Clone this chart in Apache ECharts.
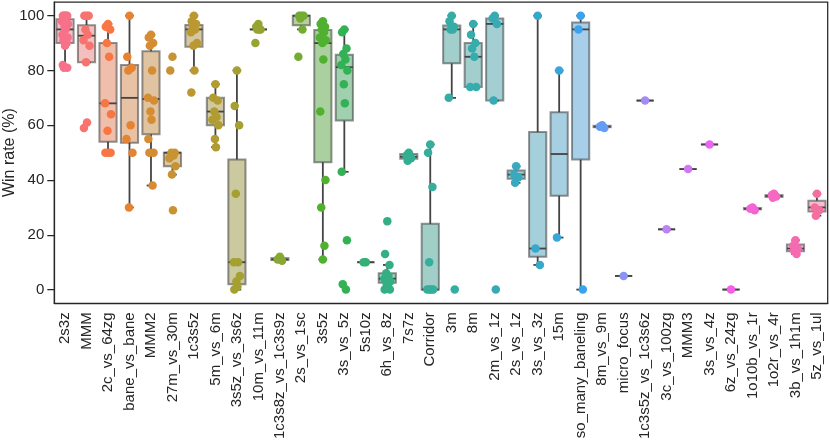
<!DOCTYPE html>
<html><head><meta charset="utf-8">
<script src="https://cdn.jsdelivr.net/npm/echarts@6/dist/echarts.min.js"></script>
<style>html,body{margin:0;padding:0;background:#fff}#c{width:830px;height:442px}</style>
</head><body><div id="c"></div><script>
const categories = ["2s3z","MMM","2c_vs_64zg","bane_vs_bane","MMM2","27m_vs_30m","1c3s5z","5m_vs_6m","3s5z_vs_3s6z","10m_vs_11m","1c3s8z_vs_1c3s9z","2s_vs_1sc","3s5z","3s_vs_5z","5s10z","6h_vs_8z","7s7z","Corridor","3m","8m","2m_vs_1z","2s_vs_1z","3s_vs_3z","15m","so_many_baneling","8m_vs_9m","micro_focus","1c3s5z_vs_1c3s6z","3c_vs_100zg","MMM3","3s_vs_4z","6z_vs_24zg","1o10b_vs_1r","1o2r_vs_4r","3b_vs_1h1m","5z_vs_1ul"];

// individual run win rates (%) per category
const winRates = [
  [100,100,100,100,100,98,97,96,95,93,92,91,90,89,82,81,81],
  [100,100,100,95,93,91,89,83,61,59],
  [97,96,95,90,85,68,64,58,50,50,50],
  [100,85,81,80,60,55,50,30],
  [93,92,90,89,80,70,69,65,62,55,50,50,38],
  [85,80,50,50,49,48,45,42,29],
  [100,98,97,96,95,94,90,89,80,72],
  [75,70,69,65,63,62,60,55,52],
  [80,67,60,35,10,10,5,3,1,0],
  [97,96,95,95,95,90],
  [12,11,10.5],
  [100,100,100,99,95,85],
  [98,97,96,95,94,92,91,90,84,65,40,30,16,11],
  [95,94,88,86,84,82,80,75,68,43,18,2,0],
  [10,10],
  [25,13,9,6,5,4,3,2,1,0,0],
  [50,49,48,47],
  [53,50,37.5,10,0,0,0,0],
  [100,98,96,95,95,70,0],
  [97,93,90,88,85,74,74],
  [100,99,97,69,0],
  [45,42,41,39],
  [100,15,9],
  [80,19],
  [100,95,0],
  [60,59.5,59],
  [5],
  [69],
  [22],
  [44],
  [53],
  [0],
  [30,29.5,29],
  [35,34.5,34,33.5],
  [18,16,15,14,13],
  [35,30,29,27]
];

// box statistics (whisker low, Q1, median, Q3, whisker high)
const boxMin    = [81,83,50,30,38,42,80,52,0,95,10.5,95,11,43,10,0,47,0,70,74,69,39,9,19,0,59,5,69,22,44,53,0,29,33.5,13,27];
const boxQ1     = [90,83,54,53.6,56.7,45,88.7,60,2,95,10.8,96.5,46.5,61.7,10,2.5,47.8,0,82.6,74,69,40.5,12,34.25,47.5,59.3,5,69,22,44,53,0,29.3,33.8,14,28.5];
const boxMedian = [95,92.7,68,70,69.6,50,95,65,10,95,11,100,90,81.2,10,4,48.5,0,95,85,97,42,15,49.5,95,59.5,5,69,22,44,53,0,29.5,34.2,15,30];
const boxQ3     = [98.7,96.5,90,82,87,50,96.6,70,47.5,95,11.5,100,94.8,85.7,10,6,49.5,24,96.4,90,99,43.5,57.5,64.75,97.5,59.8,5,69,22,44,53,0,29.8,34.5,16.5,32.4];
const boxMax    = [100,100,97,100,93,50,100,75,80,95,12,100,98,95,10,9,50,53,100,97,100,45,100,80,100,60,5,69,22,44,53,0,30,35,18,35];

const yTicks = [0,20,40,60,80,100];

// ---- seaborn-style husl palette ----
const M = [[3.2406,-1.5372,-0.4986],[-0.9689,1.8758,0.0415],[0.0557,-0.2040,1.0570]];
function maxChroma(L,H){
  const hr=H*Math.PI/180, sinH=Math.sin(hr), cosH=Math.cos(hr);
  const sub1=Math.pow(L+16,3)/1560896; const sub2=sub1>0.008856?sub1:L/903.3;
  let res=Infinity;
  for(const [m1,m2,m3] of M){
    const top=(0.99915*m1+1.05122*m2+1.14460*m3)*sub2;
    const rb=0.86330*m3-0.17266*m2, lb=0.12949*m3-0.38848*m1;
    const bottom=(rb*sinH+lb*cosH)*sub2;
    for(const t of [0,1]){const C=L*(top-1.05122*t)/(bottom+0.17266*sinH*t); if(C>0&&C<res)res=C;}
  }
  return res;
}
function fInv(t){return t*t*t>0.008856?t*t*t:(116*t-16)/903.3;}
function fromLin(c){return c<=0.0031308?12.92*c:1.055*Math.pow(c,1/2.4)-0.055;}
function husl(H,S,L){
  const C=maxChroma(L,H)/100*S, hr=H*Math.PI/180;
  const U=Math.cos(hr)*C, V=Math.sin(hr)*C;
  const Y=fInv((L+16)/116), vU=U/(13*L)+0.19784, vV=V/(13*L)+0.46834;
  const X=-(9*Y*vU)/((vU-4)*vV-vU*vV), Z=(9*Y-15*vV*Y-vV*X)/(3*vV);
  return M.map(r=>Math.min(1,Math.max(0,fromLin(r[0]*X+r[1]*Y+r[2]*Z))));
}
function rgb2hls(r,g,b){const mx=Math.max(r,g,b),mn=Math.min(r,g,b),l=(mx+mn)/2;if(mx===mn)return[0,l,0];
  const s=l<=0.5?(mx-mn)/(mx+mn):(mx-mn)/(2-mx-mn);const rc=(mx-r)/(mx-mn),gc=(mx-g)/(mx-mn),bc=(mx-b)/(mx-mn);
  let h=r===mx?bc-gc:(g===mx?2+rc-bc:4+gc-rc);h=((h/6)%1+1)%1;return[h,l,s];}
function _v(m1,m2,h){h=((h%1)+1)%1;if(h<1/6)return m1+(m2-m1)*h*6;if(h<0.5)return m2;if(h<2/3)return m1+(m2-m1)*(2/3-h)*6;return m1;}
function hls2rgb(h,l,s){if(s===0)return[l,l,l];const m2=l<=0.5?l*(1+s):l+s-l*s,m1=2*l-m2;return[_v(m1,m2,h+1/3),_v(m1,m2,h),_v(m1,m2,h-1/3)];}
const n=categories.length;
const pal=[], boxPal=[];
for(let i=0;i<n;i++){
  const h=((i/n+0.01)%1)*359;
  const c=husl(h,0.9*99,0.65*99);
  pal.push('rgb('+c.map(v=>Math.round(v*255)).join(',')+')');
  const hls=rgb2hls(c[0],c[1],c[2]);
  const d=hls2rgb(hls[0],hls[1],hls[2]*0.75);
  boxPal.push('rgba('+d.map(v=>Math.round(v*255)).join(',')+',0.5)');
}

const boxData=categories.map((c,i)=>[i,boxMin[i],boxQ1[i],boxMedian[i],boxQ3[i],boxMax[i]]);
const jit=[0,-2.2,2.2,-1.1,1.1,-3,3,-0.5,0.5,-2.6,2.6,-1.6,1.6];
const pointData=[];
winRates.forEach((arr,i)=>arr.forEach((v,j)=>pointData.push({value:[i,v],itemStyle:{color:pal[i]},symbolOffset:[jit[j%jit.length],0]})));

const font='"Liberation Sans", Arial, sans-serif';
const chart=echarts.init(document.getElementById('c'),null,{renderer:'canvas'});
chart.setOption({
  animation:false,
  grid:{left:54.3,right:2.3,top:2,bottom:138.7,show:true,borderColor:'#262626',borderWidth:1.25,backgroundColor:'transparent',containLabel:false,outerBoundsMode:'none'},
  xAxis:{type:'category',data:categories,boundaryGap:true,
    axisLine:{onZero:false,lineStyle:{color:'#262626',width:1.25}},
    axisTick:{alignWithLabel:true,length:7,lineStyle:{color:'#262626',width:1.25}},
    axisLabel:{rotate:90,interval:0,fontSize:15,color:'#262626',margin:9,fontFamily:font},
    splitLine:{show:false}},
  yAxis:{type:'value',min:-5,max:105,name:'Win rate (%)',nameLocation:'middle',nameGap:37,nameMoveOverlap:false,
    nameTextStyle:{fontSize:16,color:'#262626',fontFamily:font},
    axisLine:{show:true,onZero:false,lineStyle:{color:'#262626',width:1.25}},
    axisTick:{show:true,length:7,customValues:yTicks,lineStyle:{color:'#262626',width:1.25}},
    axisLabel:{customValues:yTicks,fontSize:15,color:'#262626',margin:10,fontFamily:font},
    splitLine:{show:false}},
  series:[
    {type:'custom',data:boxData,encode:{x:0,y:[1,2,3,4,5]},z:2,
     renderItem:function(params,api){
       const i=api.value(0);
       const x=api.coord([i,0])[0];
       const bw=api.size([1,0])[0]*0.8;
       const y=v=>api.coord([i,v])[1];
       const mn=y(api.value(1)),q1=y(api.value(2)),md=y(api.value(3)),q3=y(api.value(4)),mx=y(api.value(5));
       const ls={stroke:'#444444',lineWidth:1.8};
       return {type:'group',children:[
         {type:'line',shape:{x1:x,y1:q3,x2:x,y2:mx},style:ls},
         {type:'line',shape:{x1:x,y1:q1,x2:x,y2:mn},style:ls},
         {type:'line',shape:{x1:x-bw/4,y1:mx,x2:x+bw/4,y2:mx},style:ls},
         {type:'line',shape:{x1:x-bw/4,y1:mn,x2:x+bw/4,y2:mn},style:ls},
         {type:'rect',shape:{x:x-bw/2,y:q3,width:bw,height:q1-q3},style:{fill:boxPal[i],stroke:'rgba(60,60,60,0.55)',lineWidth:2}},
         {type:'line',shape:{x1:x-bw/2,y1:md,x2:x+bw/2,y2:md},style:ls}
       ]};
     }},
    {type:'scatter',data:pointData,symbol:'circle',symbolSize:8.5,z:3,itemStyle:{opacity:1}}
  ]
});
</script></body></html>
